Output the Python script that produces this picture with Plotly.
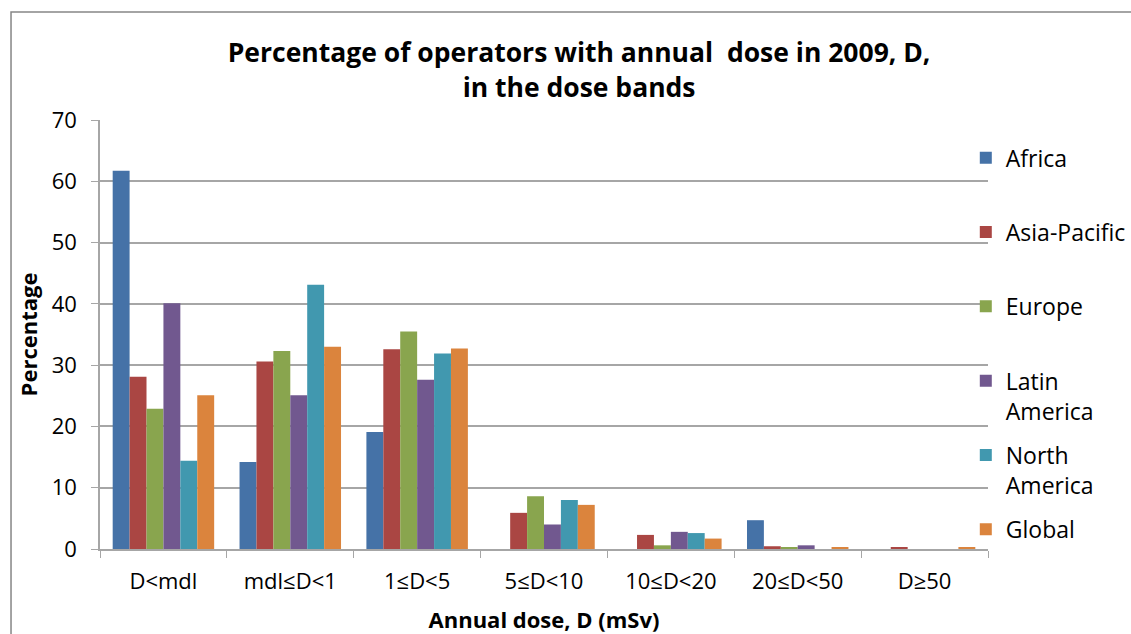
import plotly.graph_objects as go

categories = ["D<mdl", "mdl≤D<1", "1≤D<5", "5≤D<10", "10≤D<20", "20≤D<50", "D≥50"]
africa = [61.7, 14.2, 19.1, 0.0, 0.0, 4.7, 0.0]
asia_pacific = [28.1, 30.6, 32.6, 5.9, 2.3, 0.45, 0.3]
europe = [22.9, 32.3, 35.5, 8.6, 0.6, 0.2, 0.0]
latin_america = [40.1, 25.1, 27.6, 4.0, 2.8, 0.6, 0.0]
north_america = [14.4, 43.1, 31.9, 8.0, 2.6, 0.0, 0.0]
global_ = [25.1, 33.0, 32.7, 7.2, 1.7, 0.2, 0.3]

series = [
    ("Africa<br> ", africa, "#4572A7"),
    ("Asia-Pacific<br> ", asia_pacific, "#AA4643"),
    ("Europe<br> ", europe, "#89A54E"),
    ("Latin<br>America", latin_america, "#71588F"),
    ("North<br>America", north_america, "#4198AF"),
    ("Global<br> ", global_, "#DB843D"),
]

FONT = "Open Sans"
fig = go.Figure()
for name, vals, col in series:
    fig.add_trace(go.Bar(
        x=categories, y=vals, name=name, legendgroup=name,
        marker=dict(color=col, line=dict(width=0)),
    ))

grid = "#A6A6A6"
fig.update_layout(
    width=1131, height=634,
    margin=dict(l=100, r=143, t=120, b=85, autoexpand=False),
    paper_bgcolor="white", plot_bgcolor="white",
    font=dict(family=FONT, size=22, color="#000000"),
    barmode="group", bargap=0.2, bargroupgap=0,
    title=dict(
        text="<b>Percentage of operators with annual  dose in 2009, D,<br>in the dose bands</b>",
        x=0.512, xanchor="center", y=0.902, yanchor="top",
        font=dict(family=FONT, size=26.5, color="#000000"),
    ),
    xaxis=dict(
        automargin=False,
        showline=True, linecolor=grid, linewidth=1.5,
        ticks="outside", tickson="boundaries", ticklen=7, tickcolor=grid,
        tickfont=dict(family=FONT, size=22), ticklabelstandoff=12,
        title=dict(text="<b>Annual dose, D (mSv)</b>", font=dict(family=FONT, size=22), standoff=18),
    ),
    yaxis=dict(
        automargin=False,
        range=[0, 70], dtick=10,
        showgrid=True, gridcolor=grid, gridwidth=1.5,
        showline=True, linecolor=grid, linewidth=1.5,
        ticks="outside", ticklen=7, tickcolor=grid,
        tickfont=dict(family=FONT, size=22), ticklabelstandoff=10,
        zeroline=False,
        title=dict(text="<b>Percentage</b>", font=dict(family=FONT, size=22), standoff=8),
    ),
    legend=dict(
        x=0.975, xanchor="left", y=0.962, yanchor="top",
        font=dict(family=FONT, size=23),
        tracegroupgap=11.5, valign="top", maxheight=620,
        bgcolor="rgba(0,0,0,0)",
    ),
    shapes=[dict(
        type="rect", xref="paper", yref="paper",
        x0=-0.1002, x1=1.3, y0=-0.3, y1=1.2517,
        line=dict(color="#868686", width=1.5), fillcolor="rgba(0,0,0,0)",
        layer="below",
    )],
)

fig.write_html("out.html")
